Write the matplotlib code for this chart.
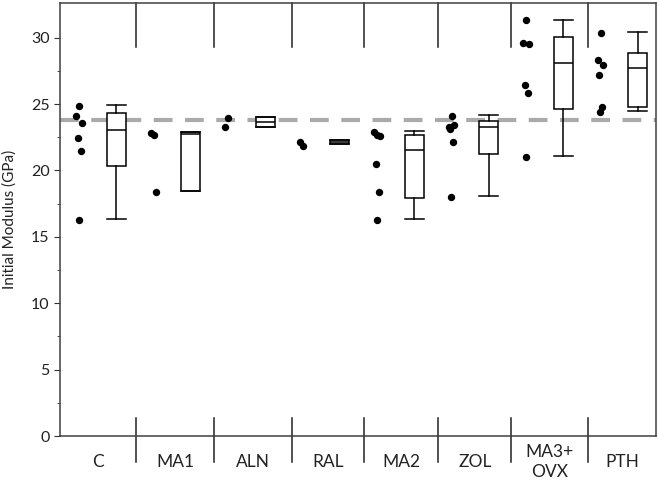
import matplotlib
matplotlib.use("Agg")
import matplotlib.pyplot as plt
import matplotlib.transforms as mtransforms

plt.rcParams['font.family'] = ['Lato', 'DejaVu Sans']

groups = ['C', 'MA1', 'ALN', 'RAL', 'MA2', 'ZOL', 'MA3+\nOVX', 'PTH']

# individual samples (GPa)
points = [
    [24.83, 24.14, 23.6, 22.46, 21.48, 16.28],
    [22.68, 22.86, 18.41],
    [23.94, 23.31],
    [21.85, 22.18],
    [22.68, 22.88, 22.6, 20.5, 18.41, 16.28],
    [24.14, 23.31, 23.44, 23.1, 22.18, 17.99],
    [31.33, 29.6, 29.52, 26.45, 25.87, 21.0],
    [30.39, 28.3, 27.98, 27.2, 24.77, 24.44],
]

# box statistics
whis_lo = [16.35, 18.46, 23.31, 21.98, 16.35, 18.07, 21.08, 24.51]
q1 = [20.3, 18.46, 23.31, 21.98, 17.96, 21.23, 24.64, 24.76]
med = [23.08, 22.73, 23.63, 22.15, 21.55, 23.26, 28.08, 27.7]
q3 = [24.3, 22.88, 24.0, 22.3, 22.68, 23.76, 30.04, 28.84]
whis_hi = [24.9, 22.88, 24.0, 22.3, 22.96, 24.19, 31.35, 30.42]

reference = 23.8

# group boundaries along x (layout)
edges = [0, 1.02, 2.07, 3.12, 4.08, 5.08, 6.06, 7.09, 8]

fig = plt.figure(figsize=(6.59, 4.82), dpi=100)
ax = fig.add_axes([0.091, 0.0954, 0.9044, 0.898])

stats = []
for i in range(len(groups)):
    stats.append(dict(whislo=whis_lo[i], q1=q1[i], med=med[i], q3=q3[i],
                      whishi=whis_hi[i], fliers=[]))
box_pos = [i + 0.755 for i in range(len(groups))]
ax.bxp(stats, positions=box_pos, widths=0.25, capwidths=0.25,
       patch_artist=True, showfliers=False,
       boxprops=dict(facecolor='white', edgecolor='black', linewidth=1.1),
       medianprops=dict(color='black', linewidth=1.1),
       whiskerprops=dict(color='black', linewidth=1.1),
       capprops=dict(color='black', linewidth=1.1), zorder=3)

jit = [0.0, -0.04, 0.03, -0.02, 0.02, -0.01]
for i, vals in enumerate(points):
    xs = [i + 0.26 + jit[k % len(jit)] for k in range(len(vals))]
    ax.plot(xs, vals, 'o', color='black', ms=4.3, zorder=4)

ax.axhline(reference, color='#aaaaaa', lw=3, dashes=(4.5, 3), zorder=2)

# group separators above and below the axes
trans = mtransforms.blended_transform_factory(ax.transData, ax.transAxes)
for e in edges[1:-1]:
    ax.plot([e, e], [1.0, 0.898], color='#222222', lw=1.1, transform=trans,
            clip_on=False)
    ax.plot([e, e], [0.042, -0.06], color='#222222', lw=1.1, transform=trans,
            clip_on=False)

for i, g in enumerate(groups):
    xc = (edges[i] + edges[i + 1]) / 2
    ax.text(xc, -0.06, g, transform=trans, ha='center', va='center',
            fontsize=12.5, color='#222222', linespacing=1.25)

ax.set_xlim(0, 8)
ax.set_ylim(0, 32.6)
ax.set_xticks([])
ax.set_yticks(range(0, 31, 5))
ax.set_yticks([2.5 + 5 * k for k in range(6)], minor=True)
ax.tick_params(axis='y', which='major', length=4, labelsize=11.5,
               colors='#333333', labelcolor='#222222')
ax.tick_params(axis='y', which='minor', length=2, colors='#333333')
for s in ax.spines.values():
    s.set_color('#404040')
    s.set_linewidth(1.1)
ax.set_ylabel('Initial Modulus (GPa)', fontsize=11, color='#222222',
              labelpad=10)

fig.savefig('out.png', dpi=100)
